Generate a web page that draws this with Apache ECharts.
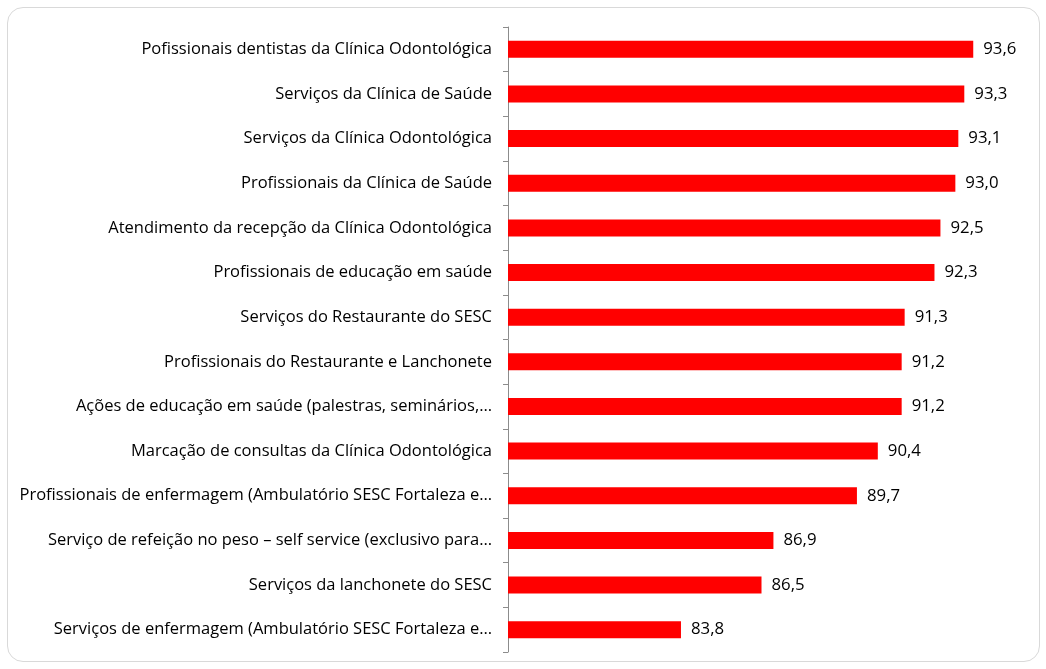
<!DOCTYPE html>
<html lang="pt">

<head>
    <meta charset="UTF-8">
    <title>Satisfação</title>
    <style>
        body { margin: 0; background: #fff; }
        #card {
            position: absolute; left: 7px; top: 7px; width: 1031px; height: 653px;
            border: 1px solid #d9d9d9; border-radius: 16px;
        }
        #chart { position: absolute; left: 0; top: 0; width: 1046px; height: 669px; }
    </style>
</head>

<body>
    <div id="card"></div>
    <div id="chart"></div>

    <script src="https://cdn.jsdelivr.net/npm/echarts@6/dist/echarts.min.js"></script>
    <script>
        const categories = [
            'Pofissionais dentistas da Clínica Odontológica',
            'Serviços da Clínica de Saúde',
            'Serviços da Clínica Odontológica',
            'Profissionais da Clínica de Saúde',
            'Atendimento da recepção da Clínica Odontológica',
            'Profissionais de educação em saúde',
            'Serviços do Restaurante do SESC',
            'Profissionais do Restaurante e Lanchonete',
            'Ações de educação em saúde (palestras, seminários,…',
            'Marcação de consultas da Clínica Odontológica',
            'Profissionais de enfermagem (Ambulatório SESC Fortaleza e…',
            'Serviço de refeição no peso – self service (exclusivo para…',
            'Serviços da lanchonete do SESC',
            'Serviços de enfermagem (Ambulatório SESC Fortaleza e…'
        ]
        const values = [93.6, 93.3, 93.1, 93.0, 92.5, 92.3, 91.3, 91.2, 91.2, 90.4, 89.7, 86.9, 86.5, 83.8]

        const myChart = echarts.init(document.getElementById('chart'))

        const option = {
            animation: false,
            grid: {
                left: 508,
                right: 31,
                top: 27,
                bottom: 17
            },
            xAxis: {
                type: 'value',
                min: 78,
                max: 95,
                show: false
            },
            yAxis: {
                type: 'category',
                data: categories,
                inverse: true,
                axisLine: { lineStyle: { color: '#8c8c8c', width: 1 } },
                axisTick: { show: true, length: 5, lineStyle: { color: '#8c8c8c' } },
                axisLabel: {
                    color: '#000',
                    fontFamily: 'Open Sans',
                    fontSize: 16.5,
                    margin: 16
                }
            },
            series: [{
                type: 'bar',
                data: values,
                barWidth: 17,
                itemStyle: { color: '#ff0000' },
                label: {
                    show: true,
                    position: 'right',
                    distance: 10,
                    color: '#000',
                    fontFamily: 'Open Sans',
                    fontSize: 16.8,
                    formatter: p => p.value.toFixed(1).replace('.', ',')
                }
            }]
        }

        myChart.setOption(option)
    </script>
</body>

</html>
